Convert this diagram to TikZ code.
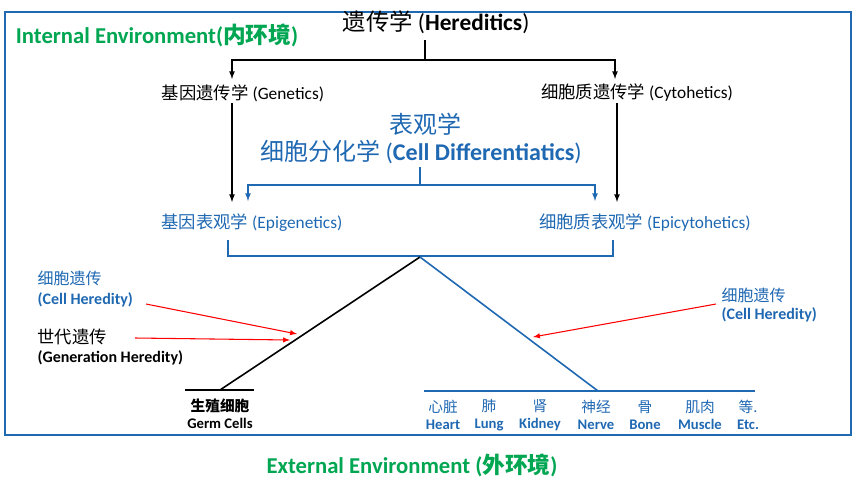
\documentclass[tikz,border=0pt]{standalone}
\usepackage{fontspec}
\setmainfont{Carlito}
\newfontfamily\cjk{Noto Sans CJK SC}
\usetikzlibrary{positioning}
\definecolor{hblue}{RGB}{31,104,178}
\definecolor{hgreen}{RGB}{0,166,81}
\tikzset{
  lbl/.style={inner sep=1pt, font=\fontsize{13}{14}\selectfont},
  blbl/.style={lbl, text=hblue},
  small/.style={inner sep=1pt, align=center, font=\bfseries\fontsize{11}{13}\selectfont},
  side/.style={inner sep=1pt, anchor=west, font=\bfseries\fontsize{12}{14}\selectfont},
  env/.style={inner sep=1pt, text=hgreen, font=\bfseries\fontsize{17}{19}\selectfont},
  redarr/.style={red, line width=0.8pt, ->, >=latex}
}
\begin{document}
\begin{tikzpicture}[x=0.75pt,y=-0.75pt]
\useasboundingbox (0,0) rectangle (856,482);
\draw [hblue, line width=1.2pt] (5,12) rectangle (851,435);
\node [env] (inenv) at (157,35) {Internal Environment({\cjk 内环境})};
\node [env] (exenv) at (412,465) {External Environment ({\cjk 外环境})};
% top level
\node [inner sep=1pt, font=\fontsize{17.5}{19}\selectfont] (her) at (436,22) {{\cjk 遗传学} (\textbf{Hereditics})};
\node [lbl] (gen) at (243,93) {{\cjk 基因遗传学} (Genetics)};
\node [lbl] (cyt) at (637,93) {{\cjk 细胞质遗传学} (Cytohetics)};
\coordinate (hsplit) at (425,60);
\draw [line width=1pt] (425,40) -- (hsplit);
\draw [line width=1pt, ->, >=latex] (hsplit) -- (232,60) -- (232,79);
\draw [line width=1pt, ->, >=latex] (hsplit) -- (615,60) -- (615,79);
% middle
\node [inner sep=1pt, text=hblue, font=\fontsize{18}{20}\selectfont] (epi) at (425,124) {\cjk 表观学};
\node [inner sep=1pt, text=hblue, font=\fontsize{18}{20}\selectfont] (diff) at (421,152) {{\cjk 细胞分化学} (\textbf{Cell Differentiatics})};
\node [blbl] (epig) at (252,223) {{\cjk 基因表观学} (Epigenetics)};
\node [blbl] (epic) at (645,223) {{\cjk 细胞质表观学} (Epicytohetics)};
\draw [line width=1pt, ->, >=latex] (232,103) -- (232,202);
\draw [line width=1pt, ->, >=latex] (617,103) -- (617,202);
\coordinate (dsplit) at (420,185);
\draw [hblue, line width=1pt] (420,167) -- (dsplit);
\draw [hblue, line width=1pt, ->, >=latex] (dsplit) -- (248,185) -- (248,201);
\draw [hblue, line width=1pt, ->, >=latex] (dsplit) -- (595,185) -- (595,201);
\draw [hblue, line width=1.2pt] (228,240) -- (228,256) -- (613,256) -- (613,240);
% triangle
\coordinate (apex) at (420,257);
\coordinate (germ) at (220,390);
\coordinate (soma) at (598,391);
\draw [line width=1.2pt] (apex) -- (germ);
\draw [hblue, line width=1.2pt] (apex) -- (soma);
\draw [line width=2pt] (185,390) -- (254,390);
\draw [hblue, line width=1.5pt] (424,391) -- (755,391);
\node [small] (gcell) at (220,414) {{\cjk 生殖细胞}\\Germ Cells};
\foreach \x/\zh/\en [count=\i] in {443/心脏/Heart, 489/肺/Lung, 540/肾/Kidney, 596/神经/Nerve, 645/骨/Bone, 700/肌肉/Muscle, 748/等./Etc.}
  \node [small, text=hblue] (organ\i) at (\x,415) {{\cjk\mdseries \zh}\\\en};
% side labels
\node [side, text=hblue] (lcell) at (36,278) {\cjk\mdseries 细胞遗传};
\node [side, text=hblue] (lcellen) at (36,300) {(Cell Heredity)};
\node [side, font=\fontsize{13}{14}\selectfont] (lgen) at (36,337) {\cjk 世代遗传};
\node [side] (lgenen) at (36,358) {(Generation Heredity)};
\node [side, text=hblue] (rcell) at (720,295) {\cjk\mdseries 细胞遗传};
\node [side, text=hblue] (rcellen) at (720,315) {(Cell Heredity)};
\coordinate (lhit1) at (297,334);
\coordinate (lhit2) at (290,340);
\coordinate (rhit) at (533,337);
\draw [redarr] (146,304) -- (lhit1);
\draw [redarr] (135,338) -- (lhit2);
\draw [redarr] (rcell.south west) ++(-4,0) -- (rhit);
\end{tikzpicture}
\end{document}
